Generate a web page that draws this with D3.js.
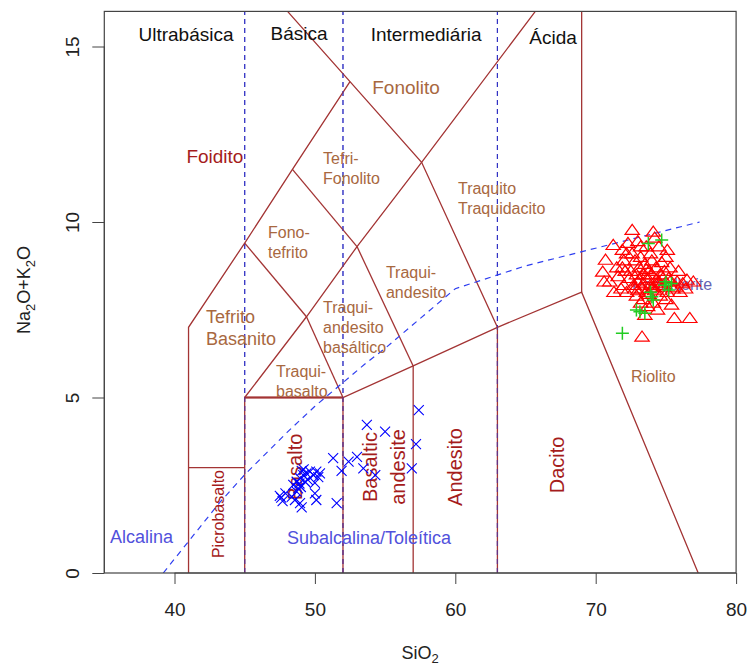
<!DOCTYPE html>
<html>
<head>
<meta charset="utf-8">
<script src="https://cdn.jsdelivr.net/npm/d3@7"></script>
<style>
  html, body { margin: 0; padding: 0; background: #fff; }
  svg { display: block; font-family: "Liberation Sans", Arial, sans-serif; }
</style>
</head>
<body>
<svg id="chart" width="749" height="668"></svg>
<script>
// ---- TAS diagram: Na2O+K2O vs SiO2 ----

// Ticks
const xTicks = [40, 50, 60, 70, 80];
const yTicks = [0, 5, 10, 15];

// Basic group (blue crosses)
const basicSiO2   = [47.5, 47.7, 47.9, 47.6, 48.35, 48.46, 48.58, 48.7, 48.7, 48.8, 48.94, 48.94, 49.06, 49.06, 49.17, 49.3, 49.4, 49.5, 49.65, 49.9, 50.0, 50.0, 50.1, 50.1, 50.24, 50.36, 49.2, 48.9, 49.0, 51.3, 51.55, 51.9, 52.4, 53.0, 53.7, 53.45, 54.3, 55.0, 57.4, 57.2, 56.9];
const basicAlk    = [2.2, 2.05, 2.27, 2.15, 2.17, 2.51, 2.08, 2.6, 2.32, 2.41, 2.7, 1.99, 1.87, 2.91, 2.79, 2.6, 2.84, 2.65, 2.89, 2.79, 2.57, 2.27, 2.08, 2.89, 2.73, 2.84, 2.95, 2.55, 2.45, 3.27, 1.99, 2.91, 3.17, 3.31, 4.22, 2.98, 2.79, 4.03, 4.64, 3.67, 2.98];

// Acid group (red triangles)
const acidSiO2 = [72.6, 74.1, 71.25, 70.7, 70.5, 71.0, 70.6, 75.6, 76.7, 73.3, 75.4, 76.95, 71.9, 72.3, 73.0, 73.6, 74.5, 75.0, 71.5, 72.0, 71.8, 72.2, 71.6, 72.5, 72.8, 73.2, 73.5, 73.8, 74.0, 74.3, 74.6, 74.9, 75.2, 75.8, 76.2, 76.5, 75.9, 73.0, 73.3, 73.6, 73.9, 74.2, 74.5, 74.8, 75.1, 72.7, 72.9, 73.4, 73.7, 74.1, 74.6, 75.0, 73.1, 73.4, 73.7, 74.0, 74.3, 74.1, 73.8, 72.4, 72.1, 71.3, 72.0, 73.9, 72.6, 74.7, 73.0, 75.3, 74.4, 73.5, 73.2, 72.9, 73.6, 74.8, 75.5, 76.0, 73.2, 72.2, 71.9, 74.2, 75.1, 72.8, 73.4, 74.0, 74.6, 75.3, 75.7, 76.4, 73.1, 74.3];
const acidAlk  = [9.77, 9.72, 9.34, 8.92, 8.58, 8.3, 8.3, 7.26, 7.26, 6.73, 7.64, 8.3, 9.2, 9.4, 9.45, 9.3, 9.3, 9.0, 8.7, 8.9, 8.1, 8.0, 8.45, 8.6, 8.9, 9.0, 8.8, 8.6, 8.9, 8.7, 8.5, 8.6, 8.4, 8.3, 8.25, 8.35, 8.6, 8.3, 8.1, 8.0, 8.2, 8.05, 8.3, 8.15, 8.0, 8.2, 7.9, 7.8, 7.6, 7.7, 7.9, 7.8, 8.7, 8.5, 8.4, 8.5, 8.35, 8.15, 7.95, 8.4, 8.6, 8.0, 8.2, 9.1, 9.1, 8.85, 8.05, 8.7, 7.5, 7.35, 7.7, 8.5, 8.65, 8.4, 8.1, 8.0, 9.3, 9.1, 8.7, 9.55, 9.2, 8.1, 8.25, 8.1, 8.2, 8.3, 8.15, 8.1, 8.35, 8.25];

// Second acid group (green plus)
const greenSiO2 = [73.75, 74.7, 74.0, 74.9, 75.2, 75.4, 72.9, 73.15, 73.5, 71.9, 74.1, 75.0, 73.9];
const greenAlk  = [9.39, 9.49, 7.87, 8.2, 8.06, 8.25, 7.49, 7.44, 7.4, 6.83, 7.78, 8.3, 8.0];

// Field boundaries (SiO2, Na2O+K2O)
const fieldLines = [
  [[41, 0], [41, 7], [45, 9.4], [48.4, 11.5], [52.5, 14]],
  [[48.05, 16], [52.5, 14], [57.6, 11.7], [63, 7]],
  [[45, 0], [45, 5], [52, 5], [57, 5.9], [63, 7], [69, 8], [77.3, 0]],
  [[41, 3], [45, 3]],
  [[52, 0], [52, 5]],
  [[57, 0], [57, 5.9]],
  [[63, 0], [63, 7]],
  [[69, 8], [69, 16]],
  [[45, 5], [49.4, 7.3], [53, 9.3], [57.6, 11.7], [65.7, 16]],
  [[49.4, 7.3], [52, 5]],
  [[53, 9.3], [57, 5.9]],
  [[45, 9.4], [49.4, 7.3]],
  [[48.4, 11.5], [53, 9.3]]
];
const basaltTop = [[45, 5], [52, 5]];

// Silica class dividers
const silicaDividers = [45, 52, 63];

// Alkaline / subalkaline divide
const divideSiO2 = [39.2, 40, 43.2, 45, 48, 50, 53.7, 55, 60, 65, 77.4];
const divideAlk  = [0, 0.4, 2, 2.8, 4, 4.75, 6, 6.4, 8.1, 8.75, 10];

// Labels
const headerLabels = [
  ["Ultrabásica", 40.82, 15.16], ["Básica", 48.87, 15.19],
  ["Intermediária", 57.92, 15.16], ["Ácida", 66.96, 15.07]
];
const bigFieldLabels = [
  ["Fonolito", 56.49, 13.65, "sienna"], ["Foidito", 42.88, 11.68, "red"]
];
const smallFieldLabels = [
  [["Tefri-", "Fonolito"], 50.58, 11.65, 16],
  [["Fono-", "tefrito"], 46.66, 9.54, 16],
  [["Traquito", "Traquidacito"], 60.19, 10.8, 16],
  [["Traqui-", "andesito"], 55.06, 8.4, 16],
  [["Tefrito", "Basanito"], 42.24, 7.12, 18],
  [["Traqui-", "andesito", "basáltico"], 50.58, 7.41, 16],
  [["Traqui-", "basalto"], 47.23, 5.58, 16],
  [["Riolito"], 72.52, 5.44, 16]
];
const verticalLabels = [
  ["Basalto", 48.58, 3.02, 20], ["Basaltic", 53.92, 3.02, 20], ["andesite", 55.92, 3.02, 20],
  ["Andesito", 59.98, 3.02, 20], ["Dacito", 67.24, 3.08, 20], ["Picrobasalto", 43.1, 1.68, 16]
];
const seriesLabels = [["Alcalina", 35.41, 0.85], ["Subalcalina/Toleítica", 48.01, 0.83]];
const groupLabel = ["Pantellerite", 72.59, 8.06];

// ---- drawing ----
const svg = d3.select("#chart");
const x = d3.scaleLinear().domain([35, 80]).range([104.3, 736.1]);
const y = d3.scaleLinear().domain([0, 16]).range([573, 11.4]);

const brown = "#A33434";
const labelBrown = "#A8683F";
const darkRed = "#A51C1C";
const blueText = "#5151DC";

svg.append("defs").append("clipPath").attr("id", "plotclip")
  .append("rect").attr("x", x(35)).attr("y", y(16))
  .attr("width", x(80) - x(35)).attr("height", y(0) - y(16));

const plot = svg.append("g").attr("clip-path", "url(#plotclip)");
const line = d3.line().x(d => x(d[0])).y(d => y(d[1]));

// silica classes
plot.selectAll("line.div").data(silicaDividers).join("line")
  .attr("x1", d => x(d)).attr("x2", d => x(d)).attr("y1", y(0)).attr("y2", y(16))
  .attr("stroke", "#3333C4").attr("stroke-width", 1.2).attr("stroke-dasharray", "5,4");

// field boundaries
plot.selectAll("path.field").data(fieldLines).join("path")
  .attr("d", line).attr("fill", "none").attr("stroke", brown).attr("stroke-width", 1.3);
plot.append("path").attr("d", line(basaltTop)).attr("fill", "none")
  .attr("stroke", brown).attr("stroke-width", 2.2);

// divider dashes again, over the solid segments
plot.selectAll("line.div2").data(silicaDividers).join("line")
  .attr("x1", d => x(d)).attr("x2", d => x(d)).attr("y1", y(0)).attr("y2", y(16))
  .attr("stroke", "#3333C4").attr("stroke-width", 1).attr("stroke-dasharray", "5,4").attr("opacity", 0.6);

// alkaline divide
plot.append("path").attr("d", line(divideSiO2.map((s, i) => [s, divideAlk[i]])))
  .attr("fill", "none").attr("stroke", "#2F3FF0").attr("stroke-width", 1.2).attr("stroke-dasharray", "6,5");

// labels
const g = svg.append("g");
headerLabels.forEach(([t, sx, a]) => {
  g.append("text").attr("x", x(sx)).attr("y", y(a)).attr("text-anchor", "middle")
    .attr("font-size", 19).attr("fill", "#111").text(t);
});
bigFieldLabels.forEach(([t, sx, a, c]) => {
  g.append("text").attr("x", x(sx)).attr("y", y(a)).attr("text-anchor", "middle")
    .attr("font-size", 19).attr("fill", c === "red" ? darkRed : labelBrown).text(t);
});
smallFieldLabels.forEach(([lines, sx, a, fs]) => {
  const tx = g.append("text").attr("x", x(sx)).attr("y", y(a))
    .attr("font-size", fs).attr("fill", labelBrown);
  lines.forEach((l, i) => tx.append("tspan").attr("x", x(sx)).attr("dy", i === 0 ? 0 : fs + 4).text(l));
});
verticalLabels.forEach(([t, sx, a, fs]) => {
  g.append("text").attr("transform", `translate(${x(sx)},${y(a)}) rotate(-90)`)
    .attr("text-anchor", "middle").attr("dy", "0.36em")
    .attr("font-size", fs).attr("fill", darkRed).text(t);
});
seriesLabels.forEach(([t, sx, a]) => {
  g.append("text").attr("x", x(sx)).attr("y", y(a)).attr("font-size", 18)
    .attr("fill", blueText).text(t);
});
g.append("text").attr("x", x(groupLabel[1])).attr("y", y(groupLabel[2]))
  .attr("font-size", 16).attr("fill", "#6464B4").text(groupLabel[0]);

// samples
const pts = svg.append("g");
const cross = 5;
pts.selectAll("path.basic").data(basicSiO2.map((s, i) => [s, basicAlk[i]])).join("path")
  .attr("d", d => {
    const cx = x(d[0]), cy = y(d[1]);
    return `M${cx - cross},${cy - cross}L${cx + cross},${cy + cross}M${cx - cross},${cy + cross}L${cx + cross},${cy - cross}`;
  })
  .attr("stroke", "#0000FF").attr("stroke-width", 1.1).attr("fill", "none");

const tri = 7.2;
pts.selectAll("path.acid").data(acidSiO2.map((s, i) => [s, acidAlk[i]])).join("path")
  .attr("d", d => {
    const cx = x(d[0]), cy = y(d[1]);
    return `M${cx},${cy - tri * 0.8}L${cx + tri},${cy + tri * 0.6}L${cx - tri},${cy + tri * 0.6}Z`;
  })
  .attr("stroke", "#FF0000").attr("stroke-width", 1.2).attr("fill", "none");

const plus = 6.5;
pts.selectAll("path.green").data(greenSiO2.map((s, i) => [s, greenAlk[i]])).join("path")
  .attr("d", d => {
    const cx = x(d[0]), cy = y(d[1]);
    return `M${cx - plus},${cy}L${cx + plus},${cy}M${cx},${cy - plus}L${cx},${cy + plus}`;
  })
  .attr("stroke", "#22CC22").attr("stroke-width", 1.5).attr("fill", "none");

// frame and axes
svg.append("rect").attr("x", x(35)).attr("y", y(16))
  .attr("width", x(80) - x(35)).attr("height", y(0) - y(16))
  .attr("fill", "none").attr("stroke", "#444").attr("stroke-width", 1.2);

const xAxis = svg.append("g").attr("transform", `translate(0,${y(0)})`)
  .call(d3.axisBottom(x).tickValues(xTicks).tickSize(11).tickPadding(19).tickFormat(d3.format("d")));
xAxis.select(".domain").attr("d", `M${x(40)},0H${x(80)}`).attr("stroke", "#444");
xAxis.selectAll(".tick line").attr("stroke", "#444");
xAxis.selectAll("text").attr("font-size", 19).attr("fill", "#222").attr("font-family", "Liberation Sans, Arial, sans-serif");

const yAxis = svg.append("g").attr("transform", `translate(${x(35)},0)`)
  .call(d3.axisLeft(y).tickValues(yTicks).tickSize(12).tickFormat(d3.format("d")));
yAxis.select(".domain").attr("d", `M0,${y(0)}V${y(15)}`).attr("stroke", "#444");
yAxis.selectAll(".tick line").attr("stroke", "#444");
yAxis.selectAll("text").attr("font-size", 19).attr("fill", "#222")
  .attr("font-family", "Liberation Sans, Arial, sans-serif")
  .attr("text-anchor", "middle").attr("x", null).attr("dy", null)
  .attr("transform", "translate(-32,0) rotate(-90)").attr("dy", "0.35em");

// axis titles
const xt = svg.append("text").attr("x", 420).attr("y", 659).attr("text-anchor", "middle")
  .attr("font-size", 18).attr("fill", "#222");
xt.append("tspan").text("SiO");
xt.append("tspan").attr("font-size", 13).attr("dy", 4).text("2");

const yt = svg.append("text").attr("transform", `translate(30,290) rotate(-90)`)
  .attr("text-anchor", "middle").attr("font-size", 18).attr("fill", "#222");
yt.append("tspan").text("Na");
yt.append("tspan").attr("font-size", 13).attr("dy", 5).text("2");
yt.append("tspan").attr("dy", -5).text("O+K");
yt.append("tspan").attr("font-size", 13).attr("dy", 5).text("2");
yt.append("tspan").attr("dy", -5).text("O");
</script>
</body>
</html>
